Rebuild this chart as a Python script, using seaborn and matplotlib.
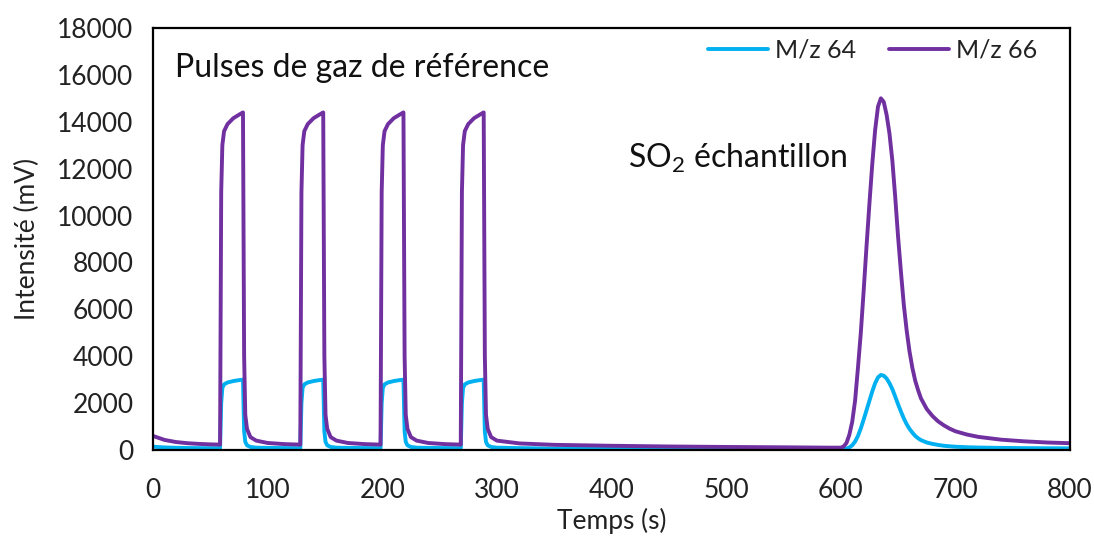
import matplotlib
matplotlib.use("Agg")
import matplotlib.pyplot as plt
import seaborn as sns
import pandas as pd

# ---- data ----
temps = [0, 10, 20, 30, 40, 50, 58.5,
         59.5, 60.5, 62, 65, 70, 75, 78.5, 79.5, 80.5, 82, 85, 90, 100, 115, 128.5,
         129.5, 130.5, 132, 135, 140, 145, 148.5, 149.5, 150.5, 152, 155, 160, 170, 185, 198.5,
         199.5, 200.5, 202, 205, 210, 215, 218.5, 219.5, 220.5, 222, 225, 230, 240, 255, 268.5,
         269.5, 270.5, 272, 275, 280, 285, 288.5, 289.5, 290.5, 292, 295, 300, 320, 350, 400,
         450, 500, 550, 590, 600, 602.5, 605, 607.5, 610, 612.5, 615, 617.5, 620, 622.5, 625,
         627.5, 630, 632.5, 635, 637.5, 640, 642.5, 645, 647.5, 650, 652.5, 655, 657.5, 660,
         662.5, 665, 667.5, 670, 675, 680, 685, 690, 695, 700, 710, 720, 740, 760, 780, 800]

mz64 = [140, 110, 95, 85, 80, 78, 78,
        2000, 2650, 2800, 2880, 2940, 2980, 3000, 800, 350, 200, 130, 100, 90, 82, 78,
        2000, 2650, 2800, 2880, 2940, 2980, 3000, 800, 350, 200, 130, 100, 90, 82, 78,
        2000, 2650, 2800, 2880, 2940, 2980, 3000, 800, 350, 200, 130, 100, 90, 82, 78,
        2000, 2650, 2800, 2880, 2940, 2980, 3000, 800, 350, 200, 130, 100, 80, 60, 50,
        45, 40, 38, 35, 35, 40, 60, 110, 200, 360, 600, 920, 1300, 1700, 2100,
        2500, 2850, 3100, 3200, 3170, 3050, 2850, 2600, 2280, 1950, 1640, 1350, 1100, 900,
        740, 600, 500, 420, 320, 260, 215, 180, 158, 140, 118, 105, 90, 80, 75, 70]

mz66 = [600, 430, 340, 290, 260, 240, 230,
        11000, 13000, 13600, 13900, 14150, 14300, 14400, 4000, 1500, 900, 550, 400, 300, 250, 230,
        11000, 13000, 13600, 13900, 14150, 14300, 14400, 4000, 1500, 900, 550, 400, 300, 250, 230,
        11000, 13000, 13600, 13900, 14150, 14300, 14400, 4000, 1500, 900, 550, 400, 300, 250, 230,
        11000, 13000, 13600, 13900, 14150, 14300, 14400, 4000, 1500, 900, 550, 400, 280, 220, 180,
        150, 130, 115, 100, 100, 150, 300, 650, 1200, 2100, 3500, 5000, 6800, 8700, 10500,
        12200, 13650, 14650, 15000, 14850, 14300, 13500, 12350, 10800, 9100, 7600, 6200, 5100, 4200,
        3500, 2950, 2550, 2200, 1750, 1450, 1220, 1050, 910, 800, 660, 560, 440, 370, 320, 290]

series_names = ["M/z 64", "M/z 66"]
series_colors = ["#00B0F0", "#7030A0"]
x_ticks = [0, 100, 200, 300, 400, 500, 600, 700, 800]
y_ticks = [0, 2000, 4000, 6000, 8000, 10000, 12000, 14000, 16000, 18000]

df = pd.DataFrame({
    "Temps": temps * 2,
    "Intensite": mz64 + mz66,
    "Serie": [series_names[0]] * len(temps) + [series_names[1]] * len(temps),
})

sns.set_theme(style="white")
plt.rcParams["font.family"] = ["Lato", "DejaVu Sans"]
plt.rcParams["mathtext.fontset"] = "custom"
plt.rcParams["mathtext.rm"] = "Lato"

fig = plt.figure(figsize=(10.94, 5.40), dpi=100)
ax = fig.add_axes([153 / 1094, 1 - 450 / 540, 917 / 1094, 422 / 540])

sns.lineplot(data=df, x="Temps", y="Intensite", hue="Serie",
             palette=dict(zip(series_names, series_colors)),
             linewidth=2.8, ax=ax, estimator=None, sort=False,
             solid_joinstyle="round", solid_capstyle="round")

ax.set_xlim(0, 800)
ax.set_ylim(0, 18000)
ax.set_xticks(x_ticks)
ax.set_yticks(y_ticks)
ax.tick_params(axis="both", length=0, labelsize=19, colors="#222222")
ax.tick_params(axis="x", pad=20)
ax.tick_params(axis="y", pad=14)
ax.set_xlabel("Temps (s)", fontsize=19, color="#222222", labelpad=4)
ax.set_ylabel("Intensité (mV)", fontsize=19, color="#222222", labelpad=12)
for s in ax.spines.values():
    s.set_visible(True)
    s.set_color("black")
    s.set_linewidth(1.6)

ax.text(19, 16300, "Pulses de gaz de référence", fontsize=23, va="center", ha="left", color="#111111")
ax.text(414, 12450, r"SO$_\mathregular{2}$ échantillon", fontsize=23, va="center", ha="left", color="#111111")

leg = ax.legend(loc="center left", bbox_to_anchor=(0.605, 0.948), frameon=False, ncol=2,
                fontsize=18, handlelength=2.4, handletextpad=0.3, columnspacing=1.3,
                borderaxespad=0, borderpad=0)
for line in leg.get_lines():
    line.set_linewidth(2.8)
for t in leg.get_texts():
    t.set_color("#222222")

fig.savefig("out.png", dpi=100)
